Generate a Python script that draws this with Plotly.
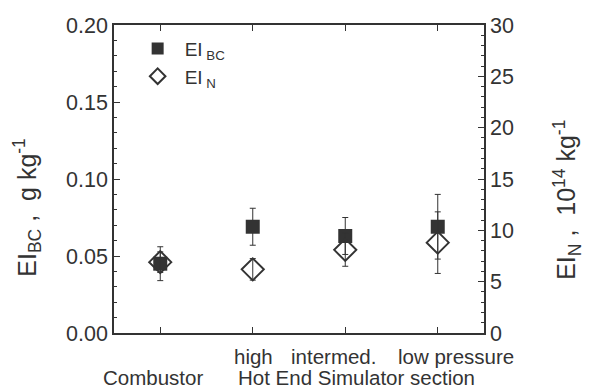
import plotly.graph_objects as go

# Data
positions = [1, 2, 3, 4]
ei_bc = [0.045, 0.069, 0.063, 0.069]
ei_bc_err = [0.011, 0.012, 0.012, 0.021]
ei_n = [6.9, 6.2, 8.1, 8.8]
ei_n_err = [1.0, 1.05, 1.6, 3.0]
row1_labels = ["high", "intermed.", "low pressure"]
row1_x = [2.01, 2.87, 4.2]
row2_labels = ["Combustor", "Hot End Simulator section"]
row2_x = [0.92, 3.12]

C = "#333333"
FONT = "Liberation Sans, Arial, sans-serif"

fig = go.Figure()
fig.add_trace(go.Scatter(
    x=positions, y=ei_bc, mode="markers", name="EI<sub> BC</sub>",
    marker=dict(symbol="square", size=14, color=C),
    error_y=dict(type="data", array=ei_bc_err, color=C, thickness=1, width=3),
))
fig.add_trace(go.Scatter(
    x=positions, y=ei_n, mode="markers", name="EI<sub> N</sub>", yaxis="y2",
    marker=dict(symbol="diamond-open", size=17, color=C, line=dict(width=2, color=C)),
    error_y=dict(type="data", array=ei_n_err, color=C, thickness=1, width=3),
))

annotations = []
for t, x in zip(row1_labels, row1_x):
    annotations.append(dict(text=t, x=x, xref="x", y=-0.076, yref="paper",
                            showarrow=False, xanchor="center", yanchor="middle",
                            font=dict(size=20.5, color=C, family=FONT)))
for t, x in zip(row2_labels, row2_x):
    annotations.append(dict(text=t, x=x, xref="x", y=-0.145, yref="paper",
                            showarrow=False, xanchor="center", yanchor="middle",
                            font=dict(size=20.5, color=C, family=FONT)))
annotations.append(dict(text="EI<sub>BC</sub> ,\u00a0\u00a0g kg<sup>-1</sup>",
                        x=-0.235, xref="paper", y=0.407, yref="paper", textangle=-90,
                        showarrow=False, xanchor="center", yanchor="middle",
                        font=dict(size=25, color=C, family=FONT)))
annotations.append(dict(text="EI<sub>N</sub> ,\u00a0\u00a010<sup>14</sup> kg<sup>-1</sup>",
                        x=1.224, xref="paper", y=0.432, yref="paper", textangle=-90,
                        showarrow=False, xanchor="center", yanchor="middle",
                        font=dict(size=25, color=C, family=FONT)))

fig.update_layout(
    width=589, height=391,
    margin=dict(l=114, r=105, t=25, b=58),
    paper_bgcolor="white", plot_bgcolor="white",
    font=dict(family=FONT, size=21, color=C),
    showlegend=True,
    legend=dict(x=0.045, y=0.985, xanchor="left", yanchor="top",
                bgcolor="rgba(0,0,0,0)", font=dict(size=19, color=C),
                tracegroupgap=0, itemsizing="constant", itemwidth=44),
    xaxis=dict(range=[0.5, 4.5], tickvals=positions, showticklabels=False,
               showline=True, linecolor=C, linewidth=1.5, mirror="ticks",
               ticks="inside", ticklen=6, tickcolor=C, tickwidth=1.2,
               showgrid=False, zeroline=False),
    yaxis=dict(range=[0, 0.2], tickvals=[0, 0.05, 0.1, 0.15, 0.2],
               ticktext=["0.00", "0.05", "0.10", "0.15", "0.20"],
               showline=True, linecolor=C, linewidth=1.5,
               ticks="inside", ticklen=6, tickcolor=C, tickwidth=1.2,
               minor=dict(dtick=0.01, ticks="inside", ticklen=3, tickcolor=C),
               showgrid=False, zeroline=False, tickfont=dict(size=21.5)),
    yaxis2=dict(range=[0, 30], tickvals=[0, 5, 10, 15, 20, 25, 30],
                overlaying="y", side="right",
                showline=True, linecolor=C, linewidth=1.5,
                ticks="inside", ticklen=6, tickcolor=C, tickwidth=1.2,
                minor=dict(dtick=1, ticks="inside", ticklen=3, tickcolor=C),
                showgrid=False, zeroline=False, tickfont=dict(size=21.5)),
    annotations=annotations,
)

fig.write_html("out.html", config={"displayModeBar": False},
               post_script="document.body.style.margin='0';")
